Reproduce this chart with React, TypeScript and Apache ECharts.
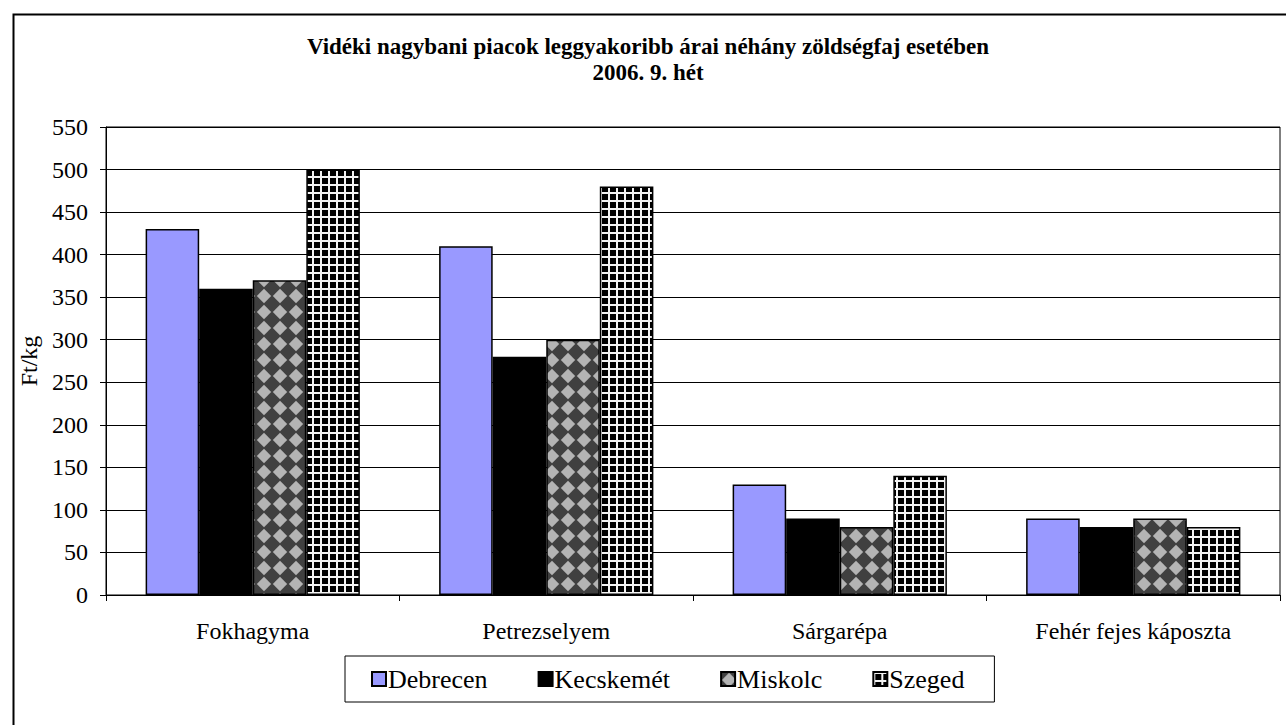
import React, { useEffect, useRef } from "react";
import * as echarts from "echarts";

const categories = ["Fokhagyma", "Petrezselyem", "Sárgarépa", "Fehér fejes káposzta"];
const seriesNames = ["Debrecen", "Kecskemét", "Miskolc", "Szeged"];
const debrecen = [430, 410, 130, 90];
const kecskemet = [360, 280, 90, 80];
const miskolc = [370, 300, 80, 90];
const szeged = [500, 480, 140, 80];
const yTicks = { min: 0, max: 550, interval: 50 };
const titleLines = [
  "Vidéki nagybani piacok leggyakoribb árai néhány zöldségfaj esetében",
  "2006. 9. hét",
];
const yAxisName = "Ft/kg";

const FONT = "'Liberation Serif', 'Times New Roman', serif";

function makeDiamondPattern(): HTMLCanvasElement {
  const c = document.createElement("canvas");
  const w = 16, h = 16;
  c.width = w;
  c.height = h;
  const ctx = c.getContext("2d")!;
  ctx.fillStyle = "#404040";
  ctx.fillRect(0, 0, w, h);
  ctx.fillStyle = "#b4b4b4";
  const cx = w / 2, cy = h / 2;
  const rx = 7.2, ry = 7.2;
  ctx.beginPath();
  ctx.moveTo(cx - rx, cy);
  ctx.lineTo(cx, cy - ry);
  ctx.lineTo(cx + rx, cy);
  ctx.lineTo(cx, cy + ry);
  ctx.closePath();
  ctx.fill();
  return c;
}

function makeGridPattern(): HTMLCanvasElement {
  const c = document.createElement("canvas");
  const s = 8;
  c.width = s;
  c.height = s;
  const ctx = c.getContext("2d")!;
  ctx.fillStyle = "#000000";
  ctx.fillRect(0, 0, s, s);
  ctx.fillStyle = "#f4f4f4";
  ctx.fillRect(0, 0, 2, s);
  ctx.fillRect(0, 0, s, 2);
  return c;
}

export default function App() {
  const ref = useRef<HTMLDivElement>(null);

  useEffect(() => {
    if (!ref.current) return;
    const chart = echarts.init(ref.current, undefined, { renderer: "svg" });
    const diamond = makeDiamondPattern();
    const grid = makeGridPattern();

    const fills: any[] = [
      "#9999ff",
      "#000000",
      { image: diamond, repeat: "repeat" },
      { image: grid, repeat: "repeat" },
    ];
    const data = [debrecen, kecskemet, miskolc, szeged];

    chart.setOption({
      animation: false,
      backgroundColor: "#ffffff",
      textStyle: { fontFamily: FONT },
      title: {
        text: titleLines.join("\n"),
        left: 643,
        textAlign: "center",
        top: 28,
        textStyle: {
          fontFamily: FONT,
          fontWeight: "bold",
          fontSize: 23,
          lineHeight: 26,
          color: "#000",
        },
      },
      graphic: [
        {
          type: "rect",
          left: 11,
          top: 12,
          shape: { width: 1400, height: 900 },
          style: { fill: "none", stroke: "#000", lineWidth: 2 },
          silent: true,
          z: -1,
        },
      ],
      legend: {
        data: seriesNames,
        left: 345,
        top: 656,
        borderColor: "#000",
        borderWidth: 1,
        padding: [10, 30, 10, 26],
        itemWidth: 14,
        itemHeight: 14,
        itemGap: 50,
        icon: "rect",
        textStyle: {
          fontFamily: FONT,
          fontSize: 26,
          lineHeight: 26,
          color: "#000",
          padding: [0, 0, 0, -3],
        },
      },
      grid: {
        left: 106,
        top: 127,
        right: 6,
        bottom: 130,
        show: true,
        borderColor: "#000",
        borderWidth: 1,
      },
      xAxis: {
        type: "category",
        data: categories,
        axisLine: { lineStyle: { color: "#000", width: 1 } },
        axisTick: { show: true, length: 6, lineStyle: { color: "#000" } },
        axisLabel: { fontFamily: FONT, fontSize: 24, color: "#000", margin: 24 },
      },
      yAxis: {
        type: "value",
        min: yTicks.min,
        max: yTicks.max,
        interval: yTicks.interval,
        name: yAxisName,
        nameLocation: "middle",
        nameGap: 62,
        nameTextStyle: { fontFamily: FONT, fontSize: 24, color: "#000" },
        axisLine: { show: true, lineStyle: { color: "#000", width: 1 } },
        axisTick: { show: true, length: 6, lineStyle: { color: "#000" } },
        axisLabel: { fontFamily: FONT, fontSize: 24, color: "#000", margin: 18 },
        splitLine: { show: true, lineStyle: { color: "#000", width: 1 } },
      },
      series: seriesNames.map((name, i) => ({
        name,
        type: "bar",
        data: data[i],
        barGap: "0%",
        barCategoryGap: "27%",
        itemStyle: {
          color: fills[i],
          borderColor: "#000",
          borderWidth: 1.5,
        },
      })),
    });

    return () => chart.dispose();
  }, []);

  return (
    <div
      ref={ref}
      style={{ position: "fixed", left: 0, top: 0, width: 1286, height: 725 }}
    />
  );
}
